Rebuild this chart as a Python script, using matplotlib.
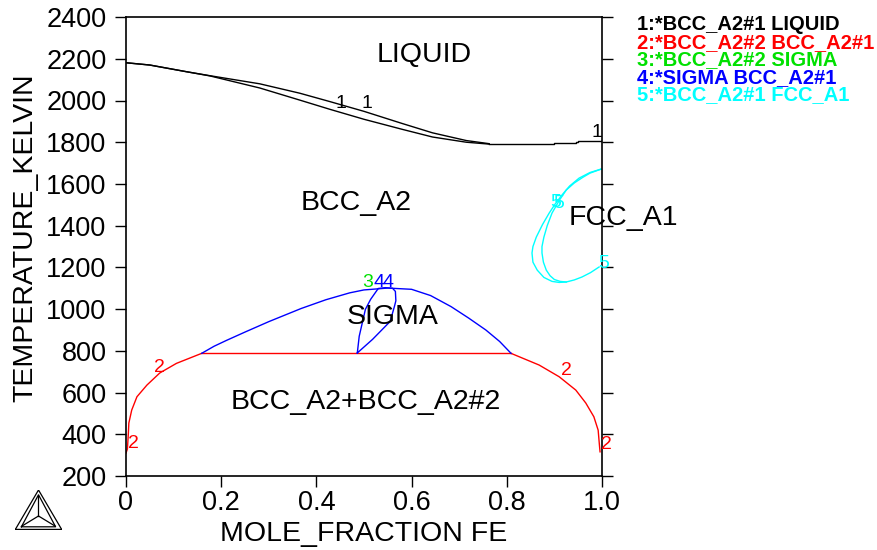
import numpy as np
import matplotlib
matplotlib.use('Agg')
from matplotlib import pyplot as plt

plt.rcParams['font.family'] = ['Liberation Sans', 'DejaVu Sans']

# liquidus / solidus (BCC_A2#1 - LIQUID), two branches that merge near x=0.76
liq_up_x = [0.0, 0.05, 0.127, 0.176, 0.281, 0.365, 0.428, 0.5, 0.58, 0.644, 0.715, 0.763]
liq_up_t = [2181, 2170, 2138, 2119, 2080, 2035, 1995, 1948, 1890, 1845, 1808, 1793]
liq_lo_x = [0.0, 0.05, 0.127, 0.176, 0.281, 0.365, 0.428, 0.5, 0.58, 0.644, 0.715, 0.763]
liq_lo_t = [2181, 2170, 2138, 2118, 2060, 2002, 1958, 1910, 1862, 1825, 1800, 1791]
liq_fe_x = [0.763, 0.8, 0.897, 0.9, 0.945, 0.95, 0.995, 1.0]
liq_fe_t = [1791, 1790, 1790, 1797, 1800, 1806, 1808, 1811]

# miscibility gap BCC_A2#2 / BCC_A2#1
gap_left_x = [0.0, 0.003, 0.005, 0.006, 0.012, 0.023, 0.044, 0.071, 0.106, 0.159]
gap_left_t = [310, 330, 406, 454, 516, 580, 636, 694, 740, 788]
gap_right_x = [0.809, 0.868, 0.91, 0.945, 0.966, 0.983, 0.992, 0.995, 0.996]
gap_right_t = [788, 732, 676, 612, 550, 484, 420, 340, 316]
eutectoid_x = [0.159, 0.809]
eutectoid_t = [788, 788]

# sigma dome (SIGMA / BCC_A2#1)
sig_x = [0.159, 0.185, 0.211, 0.25, 0.3, 0.368, 0.42, 0.47, 0.5, 0.55, 0.6, 0.64, 0.683, 0.72, 0.756, 0.785, 0.809]
sig_t = [788, 822, 850, 890, 940, 1003, 1045, 1078, 1092, 1101, 1095, 1065, 1012, 957, 900, 845, 788]
lens_x = [0.486, 0.49, 0.503, 0.514, 0.53, 0.545, 0.56, 0.566, 0.567, 0.564, 0.555, 0.518, 0.486]
lens_t = [790, 870, 999, 1047, 1099, 1103, 1100, 1085, 1040, 1013, 941, 855, 790]

# FCC_A1 loop
fcc_out_x = [0.998, 0.975, 0.952, 0.932, 0.916, 0.902, 0.889, 0.875, 0.862, 0.855, 0.853, 0.855,
             0.864, 0.878, 0.895, 0.91, 0.925, 0.942, 0.958, 0.976, 0.994]
fcc_out_t = [1671, 1655, 1628, 1590, 1547, 1505, 1460, 1405, 1345, 1300, 1269, 1225,
             1187, 1152, 1133, 1128, 1130, 1140, 1154, 1175, 1202]
fcc_in_x = [0.998, 0.975, 0.96, 0.942, 0.925, 0.91, 0.895, 0.885, 0.878, 0.874, 0.874, 0.877,
            0.883, 0.891, 0.9, 0.912, 0.925]
fcc_in_t = [1671, 1652, 1632, 1605, 1571, 1520, 1460, 1400, 1345, 1300, 1269, 1225,
            1187, 1160, 1142, 1133, 1130]

green = '#00e000'
cyan = '#00ffff'
region_labels = [('LIQUID', 0.626, 2218), ('BCC_A2', 0.483, 1510), ('FCC_A1', 1.044, 1439),
                 ('SIGMA', 0.561, 960), ('BCC_A2+BCC_A2#2', 0.504, 554)]
line_labels = [('1', 0.452, 1986, 'k'), ('1', 0.507, 1986, 'k'), ('1', 0.99, 1849, 'k'),
               ('2', 0.071, 718, 'r'), ('2', 0.015, 358, 'r'), ('2', 0.925, 708, 'r'), ('2', 1.01, 349, 'r'),
               ('3', 0.507, 1130, green), ('4', 0.532, 1130, 'b'), ('4', 0.55, 1130, 'b'),
               ('5', 0.903, 1513, cyan), ('5', 0.91, 1505, cyan), ('5', 1.004, 1221, cyan)]
legend_lines = ['1:*BCC_A2#1 LIQUID', '2:*BCC_A2#2 BCC_A2#1', '3:*BCC_A2#2 SIGMA',
                '4:*SIGMA BCC_A2#1', '5:*BCC_A2#1 FCC_A1']
legend_colors = ['k', 'r', green, 'b', cyan]

fig = plt.figure(figsize=(8.78, 5.5), dpi=100)
ax = fig.add_axes([0.1435, 0.1345, 0.5421, 0.8345])
lw = 1.0
ax.plot(liq_up_x, liq_up_t, color='k', lw=lw)
ax.plot(liq_lo_x, liq_lo_t, color='k', lw=lw)
ax.plot(liq_fe_x, liq_fe_t, color='k', lw=lw, drawstyle='steps-post')
ax.plot(gap_left_x, gap_left_t, color='r', lw=lw)
ax.plot(gap_right_x, gap_right_t, color='r', lw=lw)
ax.plot(eutectoid_x, eutectoid_t, color='r', lw=lw)
ax.plot(sig_x, sig_t, color='b', lw=lw)
ax.plot(lens_x, lens_t, color='b', lw=lw)
ax.plot(fcc_out_x, fcc_out_t, color=cyan, lw=lw)
ax.plot(fcc_in_x, fcc_in_t, color=cyan, lw=lw)

for txt, x, t in region_labels:
    ax.text(x, t, txt, fontsize=20.5, ha='center', va='center', clip_on=False)
for txt, x, t, c in line_labels:
    ax.text(x, t, txt, fontsize=14, color=c, ha='center', va='center', clip_on=False)

ax.set_xlim(0, 1)
ax.set_ylim(200, 2400)
ax.set_xticks(np.arange(0, 1.01, 0.2))
ax.set_xticklabels(['0', '0.2', '0.4', '0.6', '0.8', '1.0'])
ax.set_yticks(np.arange(200, 2401, 200))
ax.tick_params(axis='both', labelsize=19.5, length=8, width=1, direction='out')
ax.tick_params(axis='y', right=True, pad=6)
ax.tick_params(axis='x', pad=2)
for s in ax.spines.values():
    s.set_linewidth(1.2)

fig.text(364 / 878, 1 - 534 / 550, 'MOLE_FRACTION FE', fontsize=20.5, ha='center', va='center')
fig.text(25 / 878, 1 - 238 / 550, 'TEMPERATURE_KELVIN', fontsize=20.5, rotation=90, ha='center', va='center')

for i, (txt, c) in enumerate(zip(legend_lines, legend_colors)):
    fig.text(637 / 878, 1 - (25 + 17.5 * i) / 550, txt, fontsize=14.5, fontweight='bold', color=c,
             ha='left', va='center')

# thermo-calc style logo
lg = fig.add_axes([15 / 878, 20 / 550, 47 / 878, 40 / 550])
lg.set_xlim(0, 1)
lg.set_ylim(0, 1)
lg.axis('off')
for off in [0.0, 0.08]:
    lg.plot([0 + off * 1.7, 0.5, 1 - off * 1.7, 0 + off * 1.7], [0 + off, 1 - off * 1.5, 0 + off, 0 + off], color='k', lw=0.9)
lg.plot([0.5, 0.5], [0.35, 0.85], color='k', lw=0.9)
lg.plot([0.5, 0.15], [0.35, 0.1], color='k', lw=0.9)
lg.plot([0.5, 0.85], [0.35, 0.1], color='k', lw=0.9)
lg.plot([0, 1], [0, 0], color='k', lw=2.5)

fig.savefig('out.png', dpi=100)
